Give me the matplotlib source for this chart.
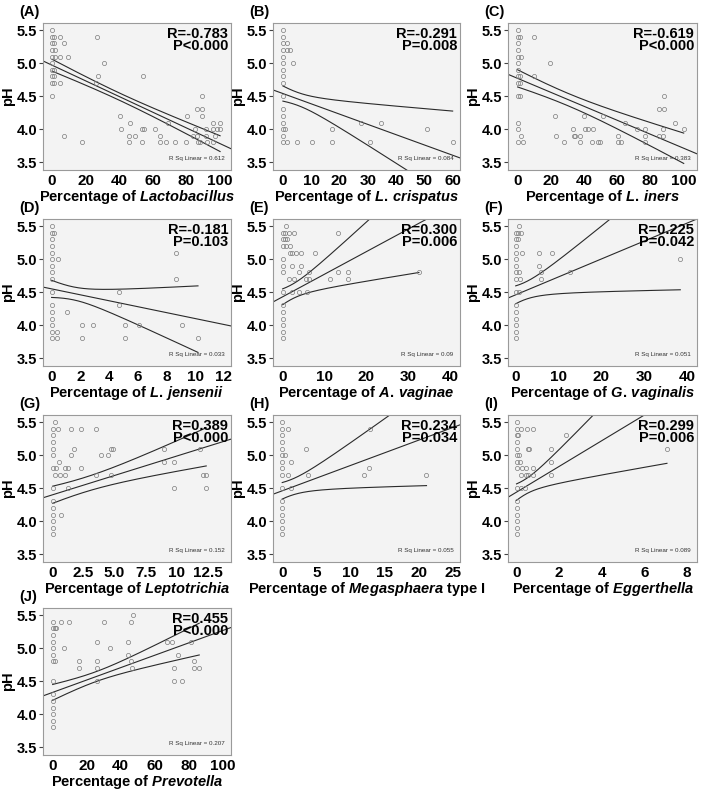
import numpy as np
import matplotlib
matplotlib.use("Agg")
import matplotlib.pyplot as plt

plt.rcParams['font.family'] = ['Liberation Sans', 'DejaVu Sans']
plt.rcParams['font.weight'] = 'bold'
plt.rcParams['mathtext.fontset'] = 'custom'
plt.rcParams['mathtext.it'] = 'Liberation Sans:bold:italic'
plt.rcParams['mathtext.rm'] = 'Liberation Sans:bold'

# ---- data (percentage vs pH) ----
a_x = [0, 0, 0, 0, 0, 0, 0, 0, 0, 0, 1, 1, 2, 2, 1, 1, 1, 5, 5, 5,
       7.3, 9.5, 7, 17.8, 26.7, 27.3, 31, 26, 40.6, 41, 46.5, 46, 46, 49.5,
       54, 53.5, 55, 53.5, 61, 64, 64, 69, 68, 73, 80, 80.6,
       84, 85, 86.5, 89, 89, 89, 86.5, 87, 88, 91.7, 91.7, 92, 96, 96, 97, 96, 100, 100, 98]
a_y = [5.5, 5.4, 5.3, 5.2, 5.1, 5.0, 4.9, 4.8, 4.7, 4.5, 5.4, 5.3, 5.2, 5.1, 4.9, 4.8, 4.7, 5.4, 5.1, 4.7,
       5.3, 5.1, 3.9, 3.8, 5.4, 4.8, 5.0, 4.7, 4.2, 4.0, 4.1, 3.9, 3.8, 3.9,
       4.8, 4.0, 4.0, 3.8, 4.0, 3.9, 3.8, 4.1, 3.8, 3.8, 3.8, 4.2,
       3.9, 4.0, 4.3, 4.3, 4.2, 4.5, 3.9, 3.8, 3.8, 3.9, 4.0, 3.8, 4.1, 4.0, 3.9, 3.8, 4.1, 4.0, 4.0]

b_x = [0, 0, 0, 0, 0, 0, 0, 0, 0, 0, 0, 0, 0, 0, 0, 0,
       1.4, 2.6, 1.4, 3.5, 0.6, 1.4, 5, 10.3, 17.4, 17.4, 27.7, 30.7, 34.8, 50.8, 60]
b_y = [5.5, 5.4, 5.3, 5.2, 5.1, 5.0, 4.9, 4.8, 4.7, 4.5, 4.3, 4.2, 4.1, 4.0, 3.9, 3.8,
       5.3, 5.2, 5.2, 5.0, 4.0, 3.8, 3.8, 3.8, 4.0, 3.8, 4.1, 3.8, 4.1, 4.0, 3.8]

c_x = [0, 0, 0, 0, 0, 0, 0, 0, 0, 0, 0, 0, 0,
       1.6, 2.2, 1.6, 1.6, 1.2, 2.2, 3.2, 10, 10, 19.7, 22.7, 23.3, 28,
       33.3, 33.7, 34.7, 37.3, 37.3, 40.2, 40.4, 42.4, 45.2, 44.8, 48.4, 49.8, 51.4,
       60.6, 60.6, 62.2, 64.5, 71.9, 76.9, 76.9, 76.9, 84.9, 84.9, 87.6, 87.6, 88.4, 88.4, 95, 100]
c_y = [5.5, 5.4, 5.3, 5.2, 5.1, 5.0, 4.9, 4.8, 4.7, 4.5, 4.1, 4.0, 3.8,
       5.4, 5.1, 4.8, 4.7, 4.5, 3.9, 3.8, 5.4, 4.8, 5.0, 4.2, 3.9, 3.8,
       4.0, 3.9, 3.9, 3.9, 3.8, 4.2, 4.0, 4.0, 4.0, 3.8, 3.8, 3.8, 4.2,
       3.9, 3.8, 3.8, 4.1, 4.0, 4.0, 3.9, 3.8, 4.3, 3.9, 3.9, 4.0, 4.3, 4.5, 4.1, 4.0]

d_x = [0, 0, 0, 0, 0, 0, 0, 0, 0, 0, 0, 0, 0, 0, 0, 0,
       0.2, 0.46, 0.4, 0.4, 1.04, 2.1, 2.1, 2.9, 4.7, 4.7, 5.1, 5.1, 6.1, 8.7, 8.7, 9.1, 10.2]
d_y = [5.5, 5.4, 5.3, 5.2, 5.1, 5.0, 4.9, 4.8, 4.7, 4.5, 4.3, 4.2, 4.1, 4.0, 3.9, 3.8,
       5.4, 5.0, 3.9, 3.8, 4.2, 4.0, 3.8, 4.0, 4.5, 4.3, 4.0, 3.8, 4.0, 5.1, 4.7, 4.0, 3.8]

e_x = [0, 0, 0, 0, 0, 0, 0, 0, 0, 0, 0, 0, 0,
       0.8, 0.6, 1.4, 2.6, 0.5, 1.0, 0.9, 1.8, 1.8, 2.2, 3.2, 4.4, 2.2, 4.4, 3.8, 6.3,
       1.4, 2.6, 5.6, 6.3, 2.2, 3.8, 5.7, 7.8, 11.2, 13.3, 13.3, 15.7, 15.7, 32.5]
e_y = [5.4, 5.3, 5.2, 5.0, 4.9, 4.8, 4.5, 4.3, 4.2, 4.1, 4.0, 3.9, 3.8,
       5.5, 5.4, 5.4, 5.4, 5.3, 5.3, 5.2, 5.2, 5.1, 5.1, 5.1, 5.1, 4.9, 4.9, 4.8, 4.8,
       4.7, 4.7, 4.7, 4.7, 4.5, 4.5, 4.5, 5.1, 4.7, 5.4, 4.8, 4.8, 4.7, 4.8]

f_x = [0, 0, 0, 0, 0, 0, 0, 0, 0, 0, 0, 0, 0, 0, 0,
       0.8, 0.5, 1.3, 0.5, 1.5, 0.8, 0.9, 0.8, 5.5, 5.5, 8.4, 6.0, 6.0, 12.7, 38.4]
f_y = [5.4, 5.3, 5.2, 5.1, 5.0, 4.9, 4.8, 4.7, 4.5, 4.3, 4.2, 4.1, 4.0, 3.9, 3.8,
       5.5, 5.4, 5.4, 5.3, 5.1, 4.8, 4.7, 4.5, 5.1, 4.9, 5.1, 4.8, 4.7, 4.8, 5.0]

g_x = [0, 0, 0, 0, 0, 0, 0, 0, 0, 0, 0, 0, 0,
       0.16, 0.4, 1.5, 2.3, 3.5, 0.5, 0.3, 0.2, 0.6, 1.0, 1.2, 1.0, 1.5, 1.7, 2.3, 0.7, 1.2,
       3.5, 3.9, 4.5, 4.7, 4.9, 4.7, 9.0, 9.0, 9.8, 9.8, 11.9, 12.1, 12.4, 12.4]
g_y = [5.4, 5.3, 5.2, 5.1, 5.0, 4.8, 4.5, 4.3, 4.2, 4.1, 4.0, 3.9, 3.8,
       5.5, 5.4, 5.4, 5.4, 5.4, 4.9, 4.8, 4.7, 4.7, 4.8, 4.8, 4.7, 5.0, 5.1, 4.8, 4.1, 4.5,
       4.7, 5.0, 5.0, 5.1, 5.1, 4.7, 5.1, 4.9, 4.9, 4.5, 5.1, 4.7, 4.7, 4.5]

h_x = [0, 0, 0, 0, 0, 0, 0, 0, 0, 0, 0, 0, 0, 0, 0, 0,
       0.4, 0.9, 0.9, 1.3, 1.3, 3.5, 3.8, 11.9, 12.7, 12.9, 21.1]
h_y = [5.5, 5.4, 5.3, 5.2, 5.1, 5.0, 4.9, 4.8, 4.7, 4.5, 4.3, 4.2, 4.1, 4.0, 3.9, 3.8,
       5.0, 5.4, 4.7, 4.9, 4.5, 5.1, 4.7, 4.7, 4.8, 5.4, 4.7]

i_x = [0, 0, 0, 0, 0, 0, 0, 0, 0, 0, 0, 0, 0, 0, 0,
       0.2, 0.47, 0.75, 0.08, 0.55, 0.6, 0.12, 0.16, 0.28, 0.44, 0.75,
       0.2, 0.44, 0.55, 0.75, 0.2, 0.4, 1.6, 1.6, 1.6, 2.3, 7.06]
i_y = [5.5, 5.4, 5.3, 5.2, 5.1, 5.0, 4.9, 4.8, 4.5, 4.3, 4.2, 4.1, 4.0, 3.9, 3.8,
       5.4, 5.4, 5.4, 5.3, 5.1, 5.1, 5.0, 4.9, 4.8, 4.8, 4.8,
       4.7, 4.7, 4.7, 4.7, 4.5, 4.5, 5.1, 4.9, 4.7, 5.3, 5.1]

j_x = [0, 0, 0, 0, 0, 0, 0, 0, 0, 0, 0, 0, 0, 0,
       2.1, 1.2, 1.6, 6.8, 5.1, 9.4, 15.3, 15.3, 26, 26, 26, 26, 30, 33.9,
       44.2, 44.6, 46, 47.2, 46, 47, 67.1, 70, 71.4, 71.4, 73.6, 76, 81.2, 83.4, 83.4, 86.3]
j_y = [5.4, 5.3, 5.2, 5.1, 5.0, 4.9, 4.8, 4.5, 4.3, 4.2, 4.1, 4.0, 3.9, 3.8,
       5.3, 5.3, 4.8, 5.0, 5.4, 5.4, 4.8, 4.7, 5.1, 4.8, 4.7, 4.5, 5.4, 5.0,
       5.1, 4.9, 5.4, 5.5, 4.8, 4.7, 5.1, 5.1, 4.7, 4.5, 4.9, 4.5, 5.1, 4.8, 4.7, 4.7]

panel_tags = ['(A)', '(B)', '(C)', '(D)', '(E)', '(F)', '(G)', '(H)', '(I)', '(J)']
taxa = [r'$\mathit{Lactobacillus}$', r'$\mathit{L.\,crispatus}$', r'$\mathit{L.\,iners}$',
        r'$\mathit{L.\,jensenii}$', r'$\mathit{A.\,vaginae}$', r'$\mathit{G.\,vaginalis}$',
        r'$\mathit{Leptotrichia}$', r'$\mathit{Megasphaera}$ type I', r'$\mathit{Eggerthella}$',
        r'$\mathit{Prevotella}$']
r_text = ['R=-0.783', 'R=-0.291', 'R=-0.619', 'R=-0.181', 'R=0.300',
          'R=0.225', 'R=0.389', 'R=0.234', 'R=0.299', 'R=0.455']
p_text = ['P<0.000', 'P=0.008', 'P<0.000', 'P=0.103', 'P=0.006',
          'P=0.042', 'P<0.000', 'P=0.034', 'P=0.006', 'P<0.000']
rsq = ['0.612', '0.084', '0.383', '0.033', '0.09', '0.051', '0.152', '0.055', '0.089', '0.207']

# fitted line (intercept, slope) and 95% CI shape
fit_b0 = [4.97, 4.54, 4.77, 4.55, 4.43, 4.46, 4.40, 4.46, 4.44, 4.33]
fit_b1 = [-0.0119, -0.0156, -0.0106, -0.045, 0.0343, 0.0272, 0.0586, 0.0385, 0.195, 0.00937]
ci_xm = [40, 5, 30, 1.5, 2, 1.5, 2.5, 1, 0.35, 25]
ci_c0 = [0.055, 0.098, 0.094, 0.098, 0.11, 0.13, 0.111, 0.12, 0.115, 0.075]
ci_c1 = [0.00177, 0.01205, 0.003, 0.0569, 0.0242, 0.026, 0.027, 0.036, 0.139, 0.00374]

x_lims = [(-5.4, 106.5), (-3.5, 62.6), (-5.8, 108), (-0.6, 12.5), (-2.3, 42.3),
          (-1.8, 42.3), (-0.78, 14.4), (-1.35, 26), (-0.4, 8.47), (-5.7, 105)]
x_ticks = [[0, 20, 40, 60, 80, 100], [0, 10, 20, 30, 40, 50, 60], [0, 20, 40, 60, 80, 100],
           [0, 2, 4, 6, 8, 10, 12], [0, 10, 20, 30, 40], [0, 10, 20, 30, 40],
           [0, 2.5, 5.0, 7.5, 10, 12.5], [0, 5, 10, 15, 20, 25], [0, 2, 4, 6, 8],
           [0, 20, 40, 60, 80, 100]]
x_ticklabels = [None, None, None, None, None, None,
                ['0', '2.5', '5.0', '7.5', '10', '12.5'], None, None, None]

xs = [a_x, b_x, c_x, d_x, e_x, f_x, g_x, h_x, i_x, j_x]
ys = [a_y, b_y, c_y, d_y, e_y, f_y, g_y, h_y, i_y, j_y]

W, H = 701, 791
fig = plt.figure(figsize=(W / 100, H / 100), dpi=100)

col_left = [43, 273, 508]
col_w = [188, 187, 189]
row_top = [23, 219, 415, 608]
ax_h = 147

for k in range(10):
    r, c = divmod(k, 3)
    l, t = col_left[c], row_top[r]
    ax = fig.add_axes([l / W, 1 - (t + ax_h) / H, col_w[c] / W, ax_h / H])
    ax.set_facecolor('#f3f3f3')
    for s in ax.spines.values():
        s.set_color('#9a9a9a')
        s.set_linewidth(0.8)

    x = np.array(xs[k], dtype=float)
    y = np.array(ys[k], dtype=float)
    ax.plot(x, y, 'o', ms=3, mfc='none', mec='#7a7a7a', mew=0.5, zorder=3)

    # regression line over full axis, CI over the data range
    xl = np.linspace(x_lims[k][0], x_lims[k][1], 200)
    ax.plot(xl, fit_b0[k] + fit_b1[k] * xl, color='#2a2a2a', lw=0.8)
    xc = np.linspace(x.min(), x.max(), 300)
    mid = fit_b0[k] + fit_b1[k] * xc
    hw = np.sqrt(ci_c0[k] ** 2 + (ci_c1[k] * (xc - ci_xm[k])) ** 2)
    ax.plot(xc, mid + hw, color='#2a2a2a', lw=0.8)
    ax.plot(xc, mid - hw, color='#2a2a2a', lw=0.8)

    ax.set_xlim(*x_lims[k])
    ax.set_ylim(3.38, 5.61)
    ax.set_yticks([3.5, 4.0, 4.5, 5.0, 5.5])
    ax.set_yticklabels(['3.5', '4.0', '4.5', '5.0', '5.5'])
    ax.set_xticks(x_ticks[k])
    if x_ticklabels[k] is not None:
        ax.set_xticklabels(x_ticklabels[k])
    ax.tick_params(axis='y', length=3, width=0.8, color='#444444', pad=1, labelsize=10.5)
    ax.tick_params(axis='x', length=0, pad=3, labelsize=11)
    for lab in ax.get_xticklabels() + ax.get_yticklabels():
        lab.set_fontweight('bold')

    ax.set_ylabel('pH', fontsize=10.5, fontweight='bold', labelpad=1)
    ax.set_xlabel('Percentage of ' + taxa[k], fontsize=10.5, fontweight='bold', labelpad=0)

    ax.text(0.985, 0.975, r_text[k] + '\n' + p_text[k], transform=ax.transAxes,
            ha='right', va='top', fontsize=10.5, fontweight='bold', linespacing=0.85)
    ax.text(0.965, 0.075, 'R Sq Linear = ' + rsq[k], transform=ax.transAxes,
            ha='right', va='center', fontsize=4.5, fontweight='normal', color='#333333')

    fig.text((l - 24) / W, 1 - (t - 4) / H, panel_tags[k], ha='left', va='bottom',
             fontsize=10.5, fontweight='bold')

fig.savefig('out.png', dpi=100)
